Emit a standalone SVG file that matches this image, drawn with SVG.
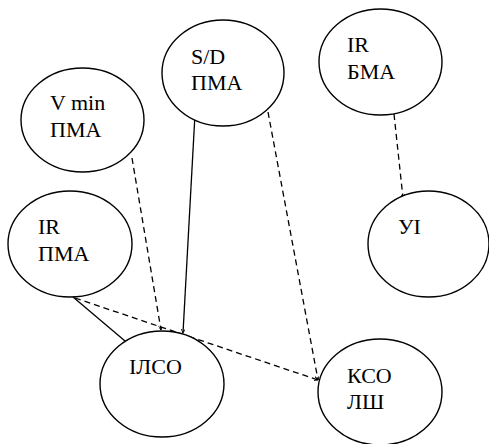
<svg xmlns="http://www.w3.org/2000/svg" width="489" height="444" viewBox="0 0 489 444">
  <defs>
    <style>
      .node ellipse { fill: #fff; stroke: #000; stroke-width: 1.4; }
      .node text { font-family: "Liberation Serif", "Times New Roman", "DejaVu Serif", serif; font-size: 22px; fill: #000; }
      .edge { fill: none; stroke: #000; stroke-width: 1.3; }
      .dash { stroke-dasharray: 6 4; }
    </style>
    <marker id="tip" viewBox="0 0 6 6" refX="6" refY="3" markerWidth="4" markerHeight="4" orient="auto" markerUnits="userSpaceOnUse">
      <path d="M0,0 L6,3 L0,6" fill="none" stroke="#000" stroke-width="1.2"/>
    </marker>
  </defs>
  <rect width="489" height="444" fill="#fff"/>

  <g id="connectors">
    <line class="edge dash" x1="132" y1="158" x2="161" y2="330" marker-end="url(#tip)"/>
    <line class="edge" x1="195" y1="114" x2="183" y2="333" marker-end="url(#tip)"/>
    <line class="edge dash" x1="268" y1="112" x2="318" y2="380" marker-end="url(#tip)"/>
    <line class="edge dash" x1="394" y1="114" x2="403" y2="198" marker-end="url(#tip)"/>
    <line class="edge" x1="73" y1="297" x2="125" y2="341"/>
    <line class="edge dash" x1="75" y1="298" x2="318" y2="380" marker-end="url(#tip)"/>
  </g>

  <g font-family="Liberation Serif, Times New Roman, serif">
    <g id="n-vmin" class="node">
      <ellipse cx="82.5" cy="120" rx="61.5" ry="52"/>
      <text x="50" y="110">V min</text>
      <text x="50" y="137">ПМА</text>
    </g>
    <g id="n-sd" class="node">
      <ellipse cx="223" cy="73" rx="61" ry="53"/>
      <text x="191" y="64">S/D</text>
      <text x="191" y="90">ПМА</text>
    </g>
    <g id="n-irbma" class="node">
      <ellipse cx="380.5" cy="62" rx="61.5" ry="53"/>
      <text x="347" y="52">IR</text>
      <text x="347" y="79">БМА</text>
    </g>
    <g id="n-irpma" class="node">
      <ellipse cx="70" cy="244" rx="62" ry="53"/>
      <text x="38" y="234">IR</text>
      <text x="38" y="261">ПМА</text>
    </g>
    <g id="n-ui" class="node">
      <ellipse cx="428.5" cy="244" rx="60.5" ry="53"/>
      <text x="398" y="234">УІ</text>
    </g>
    <g id="n-ilso" class="node">
      <ellipse cx="162" cy="384" rx="62" ry="53"/>
      <text x="129" y="374">ІЛСО</text>
    </g>
    <g id="n-kso" class="node">
      <ellipse cx="380" cy="392" rx="62" ry="53"/>
      <text x="347" y="383">КСО</text>
      <text x="347" y="409">ЛШ</text>
    </g>
  </g>
</svg>
